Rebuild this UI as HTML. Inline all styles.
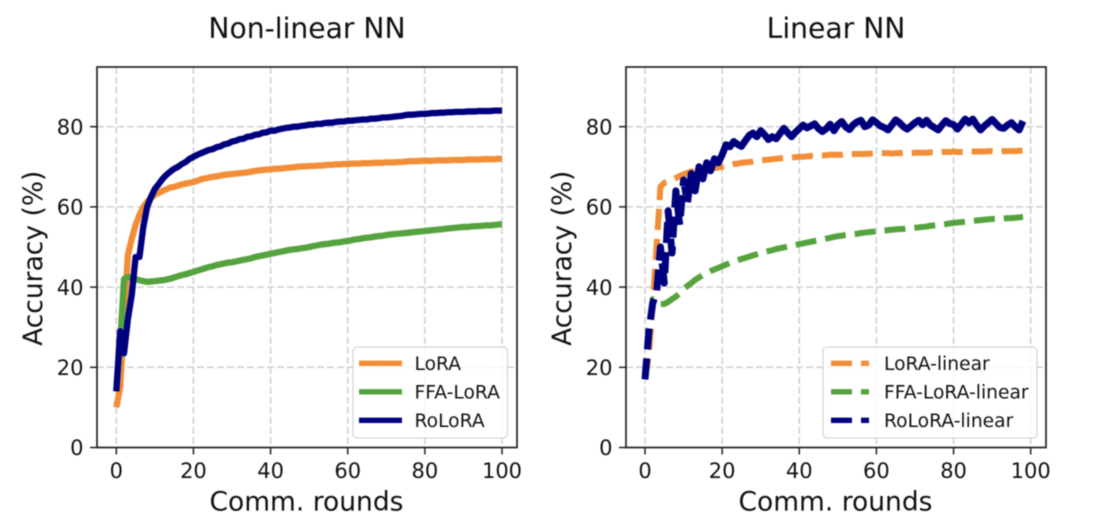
<!DOCTYPE html>
<html>
<head>
<meta charset="utf-8">
<title>Accuracy charts</title>
<style>
html,body{margin:0;padding:0;background:#fff;}
svg{display:block;font-family:"DejaVu Sans","Liberation Sans",sans-serif;filter:blur(0.4px);}
</style>
</head>
<body>
<svg id="chart" width="1094" height="530" viewBox="0 0 1094 530" xmlns="http://www.w3.org/2000/svg">
  <g id="panel-left"></g>
  <g id="panel-right"></g>
</svg>
<script>
var xTicks = [0, 20, 40, 60, 80, 100];
var yTicks = [0, 20, 40, 60, 80];

var loraValues = [10,15,32,48,52,55.5,58,60,61.3,62.2,63,
63.5,64,64.4,64.8,65,65.3,65.6,65.8,66,66.2,
66.5,66.9,67.1,67.3,67.5,67.6,67.8,68,68.1,68.2,
68.3,68.4,68.5,68.6,68.8,69,69.1,69.2,69.3,69.4,
69.5,69.5,69.6,69.7,69.8,69.9,70,70.1,70.1,70.2,
70.2,70.3,70.3,70.4,70.5,70.5,70.6,70.6,70.7,70.7,
70.8,70.8,70.8,70.9,70.9,70.9,71,71,71,71.1,
71.1,71.1,71.2,71.2,71.3,71.4,71.4,71.4,71.5,71.5,
71.5,71.5,71.6,71.6,71.6,71.6,71.7,71.7,71.7,71.7,
71.8,71.8,71.8,71.8,71.9,71.9,71.9,71.9,72,72];

var ffaValues = [14,26,42,42.5,42.3,42,41.7,41.5,41.3,41.4,41.5,
41.6,41.7,41.9,42.1,42.4,42.7,43,43.2,43.5,43.8,
44.1,44.4,44.7,45,45.2,45.5,45.7,45.9,46.1,46.2,
46.4,46.6,46.8,47,47.2,47.5,47.7,47.9,48.1,48.3,
48.5,48.7,48.9,49.1,49.3,49.4,49.5,49.7,49.8,50,
50.2,50.4,50.6,50.7,50.8,51,51.1,51.2,51.4,51.5,
51.7,51.9,52,52.2,52.3,52.4,52.6,52.7,52.8,53,
53.1,53.2,53.3,53.4,53.5,53.6,53.7,53.8,53.9,54,
54.1,54.2,54.3,54.4,54.5,54.6,54.7,54.8,54.9,55,
55,55.1,55.2,55.2,55.3,55.4,55.4,55.5,55.6,55.7];

var roloraValues = [14,29,23.5,32,38,47.5,47.5,55,60,62.5,64.5,
65.7,67,68,68.8,69.5,70,70.7,71.2,72,72.5,
73,73.4,73.8,74.2,74.4,74.9,75.1,75.6,75.8,76.3,
76.5,76.9,77,77.5,77.6,78,78.1,78.5,78.6,79,
79,79.3,79.5,79.7,79.8,80,80,80.2,80.3,80.5,
80.5,80.7,80.7,80.9,81,81,81.2,81.3,81.3,81.5,
81.5,81.6,81.7,81.8,81.8,82,82,82.1,82.3,82.3,
82.4,82.5,82.6,82.7,82.9,83,83,83.1,83.2,83.2,
83.3,83.4,83.4,83.5,83.5,83.6,83.6,83.7,83.7,83.7,
83.8,83.8,83.8,83.9,83.9,83.9,83.9,84,84,84];

var loraLinearValues = [17,23,36,50,65,66,66.3,66.7,67.2,67.7,68.1,
68.5,68.8,69,69.2,69.4,69.5,69.6,69.7,69.8,70,
70.3,70.5,70.7,70.8,71,71.1,71.2,71.3,71.5,71.6,
71.7,71.8,71.9,72,72.1,72.2,72.3,72.3,72.4,72.5,
72.5,72.6,72.7,72.7,72.8,72.8,72.9,73,73,73,
73,73.1,73.1,73.2,73.2,73.2,73.2,73.3,73.3,73.3,
73.4,73.4,73.4,73.3,73.4,73.4,73.5,73.5,73.4,73.5,
73.5,73.5,73.5,73.6,73.6,73.6,73.7,73.7,73.7,73.8,
73.7,73.7,73.7,73.8,73.8,73.8,73.8,73.8,73.9,73.9,
73.8,73.8,73.9,73.9,73.9,73.9,74,74];

var ffaLinearValues = [17,28,37,36.5,35.8,35.8,36.3,37,37.6,38.5,39.5,
40.3,41,41.8,42.4,43,43.5,44,44.4,44.8,45.2,
45.6,46,46.4,46.7,47,47.3,47.6,47.9,48.2,48.5,
48.8,49,49.2,49.5,49.7,49.9,50.1,50.3,50.5,50.7,
50.9,51.1,51.3,51.5,51.7,51.9,52.1,52.3,52.5,52.7,
52.8,53,53.1,53.2,53.3,53.5,53.6,53.7,53.8,53.9,
54,54.1,54.2,54.3,54.4,54.5,54.5,54.6,54.7,54.8,
54.9,55,55.1,55.3,55.4,55.5,55.6,55.7,55.9,56,
56.1,56.2,56.3,56.4,56.5,56.6,56.7,56.8,56.9,57,
57,57.1,57.1,57.2,57.2,57.3,57.4,57.5];

var roloraLinearValues = [17,29,36,38.5,50,41,59,48.5,64,55.5,66.7,
61,68.3,64,70,67,71,69,72,71,73,
75.5,75,76.3,75.6,75.1,76.5,77.8,78.4,77.5,79,
78,76.8,77.5,77,78.3,79.6,78.5,77.5,78.6,79.5,
80.4,79.7,80.2,80.7,79.5,78.8,79.5,80.6,79,80.5,
81.3,80,79.3,80.5,81.2,81.6,80,80.4,81.7,81,
80.2,79.8,79.2,80.4,81.7,81,80,79.4,80.2,81,
81.6,80.5,81.6,80.4,79.8,79.2,80.4,81.5,80.8,80.5,
79.4,80.6,81.9,81,81.9,80.4,79.2,80.2,81,81.8,
80.8,79.8,79.6,80.4,81,80,79.2,81.4];

var SVGNS = 'http://www.w3.org/2000/svg';
var AXIS_BOTTOM = 447.5, AXIS_TOP = 67, AXIS_W = 420, Y_UNIT = 4.01, X_UNIT = 3.857;

function mk(parent, tag, attrs, text) {
  var el = document.createElementNS(SVGNS, tag);
  for (var k in attrs) { el.setAttribute(k, attrs[k]); }
  if (text !== undefined) { el.textContent = text; }
  parent.appendChild(el);
  return el;
}

function drawPanel(panel, left, zeroX, title, series) {
  var xScale = function (v) { return zeroX + v * X_UNIT; };
  var yScale = function (v) { return AXIS_BOTTOM - v * Y_UNIT; };

  xTicks.forEach(function (t) {
    var grid = mk(panel, 'line', {x1: xScale(t), x2: xScale(t), y1: AXIS_TOP, y2: AXIS_BOTTOM, stroke: '#cfcfcf', 'stroke-width': 1.5, 'stroke-dasharray': '7 3'});
    
    
    var tick = mk(panel, 'line', {x1: xScale(t), x2: xScale(t), y1: AXIS_BOTTOM, y2: AXIS_BOTTOM + 7, stroke: '#222', 'stroke-width': 1.5});
    
    
    var label = mk(panel, 'text', {x: xScale(t), y: 478, 'text-anchor': 'middle', 'font-size': 21, fill: '#111'}, String(t));
    
    
  });

  yTicks.forEach(function (t) {
    var grid = mk(panel, 'line', {x1: left, x2: left + AXIS_W, y1: yScale(t), y2: yScale(t), stroke: '#cfcfcf', 'stroke-width': 1.5, 'stroke-dasharray': '7 3'});
    
    
    var tick = mk(panel, 'line', {x1: left - 7, x2: left, y1: yScale(t), y2: yScale(t), stroke: '#222', 'stroke-width': 1.5});
    
    
    var label = mk(panel, 'text', {x: left - 13.5, y: yScale(t) + 7.7, 'text-anchor': 'end', 'font-size': 21, fill: '#111'}, String(t));
    
    
  });

  series.forEach(function (s) {
    var pts = s.values.map(function (v, i) { return xScale(i).toFixed(2) + ',' + yScale(v).toFixed(2); }).join(' ');
    var line = mk(panel, 'polyline', {points: pts, fill: 'none', stroke: s.color, 'stroke-width': s.width, 'stroke-linejoin': 'round', 'stroke-linecap': 'butt'});
    if (s.dash) { line.setAttribute('stroke-dasharray', s.dash); }
    
    
  });

  var frame = mk(panel, 'rect', {x: left, y: AXIS_TOP, width: AXIS_W, height: AXIS_BOTTOM - AXIS_TOP, fill: 'none', stroke: '#222', 'stroke-width': 1.7});
  
  

  var titleEl = mk(panel, 'text', {x: left + 210, y: 38, 'text-anchor': 'middle', 'font-size': 28.2, fill: '#111'}, title);
  
  
  var xTitle = mk(panel, 'text', {x: left + 209.5, y: 510.5, 'text-anchor': 'middle', 'font-size': 26.5, fill: '#111'}, 'Comm. rounds');
  
  
  var yTitle = mk(panel, 'text', {x: 0, y: 0, 'text-anchor': 'middle', 'font-size': 26.5, fill: '#111', transform: 'translate(' + (left - 55) + ',258.3) rotate(-90)'}, 'Accuracy (%)');
  
  
}

function drawLegend(panel, box, lineX1, lineX2, textX, dash, entries) {
  var legend = mk(panel, 'g', {});
  
  
  var bg = mk(legend, 'rect', {x: box[0], y: box[1], width: box[2], height: box[3], rx: 4, fill: '#fff', 'fill-opacity': 0.8, stroke: '#d6d6d6', 'stroke-width': 1.3});
  
  
  var ys = [363.3, 391.8, 420.3];
  entries.forEach(function (e, i) {
    var sw = mk(legend, 'line', {x1: lineX1, x2: lineX2, y1: ys[i], y2: ys[i], stroke: e.color, 'stroke-width': 5.3});
    if (dash) { sw.setAttribute('stroke-dasharray', dash); }
    
    
    var t = mk(legend, 'text', {x: textX, y: ys[i] + 6.5, 'font-size': 18.7, fill: '#111'}, e.label);
    
    
  });
}

var ORANGE = '#f28e37', GREEN = '#55a33e', NAVY = '#00007f', DASH = '21 9';
var NAVY_DASH = '21 9 21 9 21 9 21 9 21 9 21 9 21 9 21 9 21 9 21 9 21 9 21 9 21 9 21 9 21 9 5000 0';
var pl = document.getElementById('panel-left');
var pr = document.getElementById('panel-right');

drawPanel(pl, 97, 116.3, 'Non-linear NN', [
  {name: 'lora-line', color: ORANGE, width: 6.3, values: loraValues},
  {name: 'ffa-lora-line', color: GREEN, width: 6.3, values: ffaValues},
  {name: 'rolora-line', color: NAVY, width: 6.3, values: roloraValues}
]);
drawLegend(pl, [353, 347, 154.5, 91], 359, 402, 414.5, null, [
  {color: ORANGE, label: 'LoRA'},
  {color: GREEN, label: 'FFA-LoRA'},
  {color: NAVY, label: 'RoLoRA'}
]);

drawPanel(pr, 626, 645, 'Linear NN', [
  {name: 'lora-linear-line', color: ORANGE, width: 6, dash: DASH, values: loraLinearValues},
  {name: 'ffa-lora-linear-line', color: GREEN, width: 6, dash: DASH, values: ffaLinearValues},
  {name: 'rolora-linear-line', color: NAVY, width: 7, dash: NAVY_DASH, values: roloraLinearValues}
]);
drawLegend(pr, [823, 347, 214, 91], 831, 869, 884, DASH, [
  {color: ORANGE, label: 'LoRA-linear'},
  {color: GREEN, label: 'FFA-LoRA-linear'},
  {color: NAVY, label: 'RoLoRA-linear'}
]);
</script>
</body>
</html>
